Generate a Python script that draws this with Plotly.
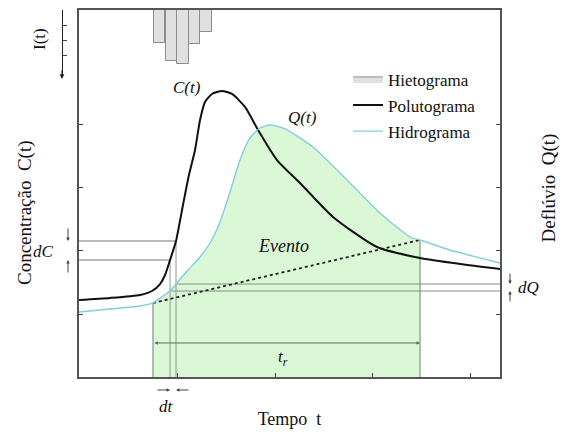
import numpy as np
import plotly.graph_objects as go

# ---------------- data ----------------
# Polutograma C(t)
c_t = [0, 0.316, 0.622, 0.745, 0.827, 0.878, 0.929, 0.990, 1.061, 1.122, 1.184, 1.235,
       1.286, 1.357, 1.459, 1.561, 1.694, 1.827, 2.020, 2.255, 2.592, 3.041, 3.480, 3.888, 4.296]
c_v = [1.222, 1.254, 1.302, 1.365, 1.476, 1.619, 1.857, 2.159, 2.730, 3.206, 3.603, 4.079,
       4.365, 4.492, 4.540, 4.492, 4.286, 3.921, 3.444, 3.079, 2.540, 2.063, 1.889, 1.794, 1.714]
# Hidrograma Q(t)
q_t = [0, 0.316, 0.622, 0.755, 0.857, 0.929, 0.990, 1.112, 1.235, 1.337, 1.439, 1.541,
       1.643, 1.745, 1.847, 1.949, 2.102, 2.388, 2.765, 3.071, 3.378, 3.480, 3.786, 4.296]
q_v = [1.032, 1.079, 1.127, 1.175, 1.286, 1.365, 1.476, 1.698, 1.905, 2.127, 2.460, 2.937,
       3.444, 3.794, 3.952, 4.000, 3.937, 3.651, 3.079, 2.603, 2.222, 2.175, 2.016, 1.810]
# Hietograma I(t)
i_t = [0.821, 0.944, 1.061, 1.179, 1.296]
i_v = [2.2, 3.4, 3.6, 2.27, 1.47]
bar_w = 0.117

# event markers
t_start, t_end = 0.755, 3.480
t1, t2 = 0.929, 0.990
c1, c2 = 1.857, 2.159
q1, q2 = 1.365, 1.476
q_start, q_end = 1.175, 2.175

x_ticks = [1, 2, 3, 4]
y_ticks = [1, 2, 3, 4, 5]
i_ticks = [0, 1, 2, 3]

X_MAX, Y_MAX = 4.296, 5.825
FONT = "Liberation Serif, Times New Roman, DejaVu Serif, serif"
GREEN = "rgb(218,247,214)"
EDGE = "#8a9c8a"
BLUE = "#86cbe0"

def px(t):  # data x -> paper x
    return t / X_MAX

def py(v):  # data y -> paper y
    return v / Y_MAX

fig = go.Figure()

# event area under hydrograph
mask = [(t > t_start) and (t < t_end) for t in q_t]
fx = [t_start] + [t for t, m in zip(q_t, mask) if m] + [t_end]
fy = [q_start] + [v for v, m in zip(q_v, mask) if m] + [q_end]
fig.add_trace(go.Scatter(x=fx, y=fy, mode="lines", line=dict(width=0, shape="spline", smoothing=0.6),
                         fill="tozeroy", fillcolor=GREEN, showlegend=False, hoverinfo="skip"))

def seg(xs, ys, color, width=1.0, dash=None):
    fig.add_trace(go.Scatter(x=xs, y=ys, mode="lines",
                             line=dict(color=color, width=width, dash=dash),
                             showlegend=False, hoverinfo="skip"))

# event boundaries
seg([t_start, t_start], [0, q_start], EDGE, 1.3)
seg([t_end, t_end], [0, q_end], EDGE, 1.3)
# dt lines
seg([t1, t1], [0, c1], "#8f9a8f", 1)
seg([t2, t2], [0, c2], "#8f9a8f", 1)
# dC lines
seg([0, t2], [c2, c2], "#777", 1)
seg([0, t1], [c1, c1], "#777", 1)
# dQ lines
seg([t2, X_MAX], [q2, q2], "#8a8a8a", 1)
seg([t1, X_MAX], [q1, q1], "#8a8a8a", 1)
# baseflow separation (dotted)
seg([t_start, t_end], [q_start, q_end], "#222", 1.8, "dot")

# hyetograph bars (hanging from top)
fig.add_trace(go.Bar(x=i_t, y=i_v, width=bar_w, yaxis="y2", showlegend=False,
                     marker=dict(color="#e0e0e0", line=dict(color="#8c8c8c", width=1))))
# legend entry for hyetograph
fig.add_trace(go.Scatter(x=[None], y=[None], mode="lines", name="Hietograma", fill="toself",
                         fillcolor="#e0e0e0", line=dict(color="#8c8c8c", width=1),
                         legendgroup="a", legendrank=1))
# curves
fig.add_trace(go.Scatter(x=c_t, y=c_v, mode="lines", name="Polutograma",
                         line=dict(color="#111", width=2, shape="spline", smoothing=0.6),
                         legendgroup="b", legendrank=2))
fig.add_trace(go.Scatter(x=q_t, y=q_v, mode="lines", name="Hidrograma",
                         line=dict(color=BLUE, width=1.4, shape="spline", smoothing=0.6),
                         legendgroup="c", legendrank=3))

# dummy trace for right axis
fig.add_trace(go.Scatter(x=[None], y=[None], yaxis="y3", showlegend=False))

ann = []
def txt(x, y, s, size=16, italic=True, angle=0):
    ann.append(dict(xref="paper", yref="paper", x=px(x), y=py(y), xanchor="center",
                    yanchor="middle", textangle=angle,
                    text=(f"<i>{s}</i>" if italic else s), showarrow=False,
                    font=dict(family=FONT, size=size, color="#111")))

txt(1.102, 4.587, "C(t)", size=17)
txt(2.276, 4.111, "Q(t)", size=17)
txt(2.082, 2.079, "Evento", size=18)
txt(-0.367, 1.984, "dC", size=17)
txt(4.582, 1.413, "dQ", size=17)
txt(0.888, -0.476, "dt", size=17)
txt(2.08, 0.30, "t<sub>r</sub>", size=17)
# axis titles drawn as rotated text
txt(-0.398, 5.365, "I(t)", size=17, italic=False, angle=-90)
txt(-0.551, 2.603, "Concentração  C(t)", size=19, italic=False, angle=-90)
txt(4.80, 3.0, "Deflúvio  Q(t)", size=19, italic=False, angle=-90)

def arrow(x, y, ax, ay):
    ann.append(dict(xref="paper", yref="paper", x=px(x), y=py(y), ax=ax, ay=ay, text="",
                    showarrow=True, arrowhead=2, arrowsize=0.7, arrowwidth=1, arrowcolor="#444"))

# dC / dQ / dt arrows
arrow(-0.112, c2, 0, -14)
arrow(-0.112, c1, 0, 14)
arrow(4.398, q2, 0, -12)
arrow(4.398, q1, 0, 12)
arrow(t1, -0.206, -14, 0)
arrow(t2, -0.206, 14, 0)
# t_r double arrow
ann.append(dict(x=t_end, y=0.54, ax=t_start, ay=0.54, axref="x", ayref="y", text="",
                showarrow=True, arrowhead=2, arrowsize=0.7, arrowwidth=1, arrowcolor="#666",
                arrowside="end+start"))
# I(t) axis arrow
ann.append(dict(xref="paper", yref="paper", x=-0.0404, y=0.812, ax=0, ay=-10, text="",
                showarrow=True, arrowhead=2, arrowsize=0.8, arrowwidth=1.2, arrowcolor="#222"))

AX = dict(showgrid=False, zeroline=False, showticklabels=False, ticks="inside", ticklen=4,
          tickcolor="#444", tickwidth=1.2)

fig.update_layout(
    width=562, height=432,
    margin=dict(l=79, r=62, t=10, b=55, autoexpand=False),
    paper_bgcolor="white", plot_bgcolor="white",
    font=dict(family=FONT, size=16, color="#111"),
    bargap=0,
    xaxis=dict(range=[0, X_MAX], tickvals=x_ticks, showline=True, mirror=True, linecolor="#555",
               linewidth=2, automargin=False,
               title=dict(text="Tempo  t", standoff=34, font=dict(family=FONT, size=18)), **AX),
    yaxis=dict(range=[0, Y_MAX], tickvals=y_ticks, showline=True, mirror=True, linecolor="#555",
               linewidth=2, automargin=False, **AX),
    yaxis2=dict(domain=[0.817, 1], range=[4.47, 0], tickvals=i_ticks, anchor="free", position=0,
                shift=-17, showline=True, linecolor="#222", linewidth=1.2, automargin=False, **AX),
    yaxis3=dict(overlaying="y", side="right", range=[0, Y_MAX], tickvals=y_ticks, automargin=False,
                **AX),
    legend=dict(x=0.639, y=0.86, xanchor="left", yanchor="top", bgcolor="rgba(0,0,0,0)",
                font=dict(family=FONT, size=17), tracegroupgap=1, traceorder="grouped"),
    annotations=ann,
)

fig.write_html("out.html")
